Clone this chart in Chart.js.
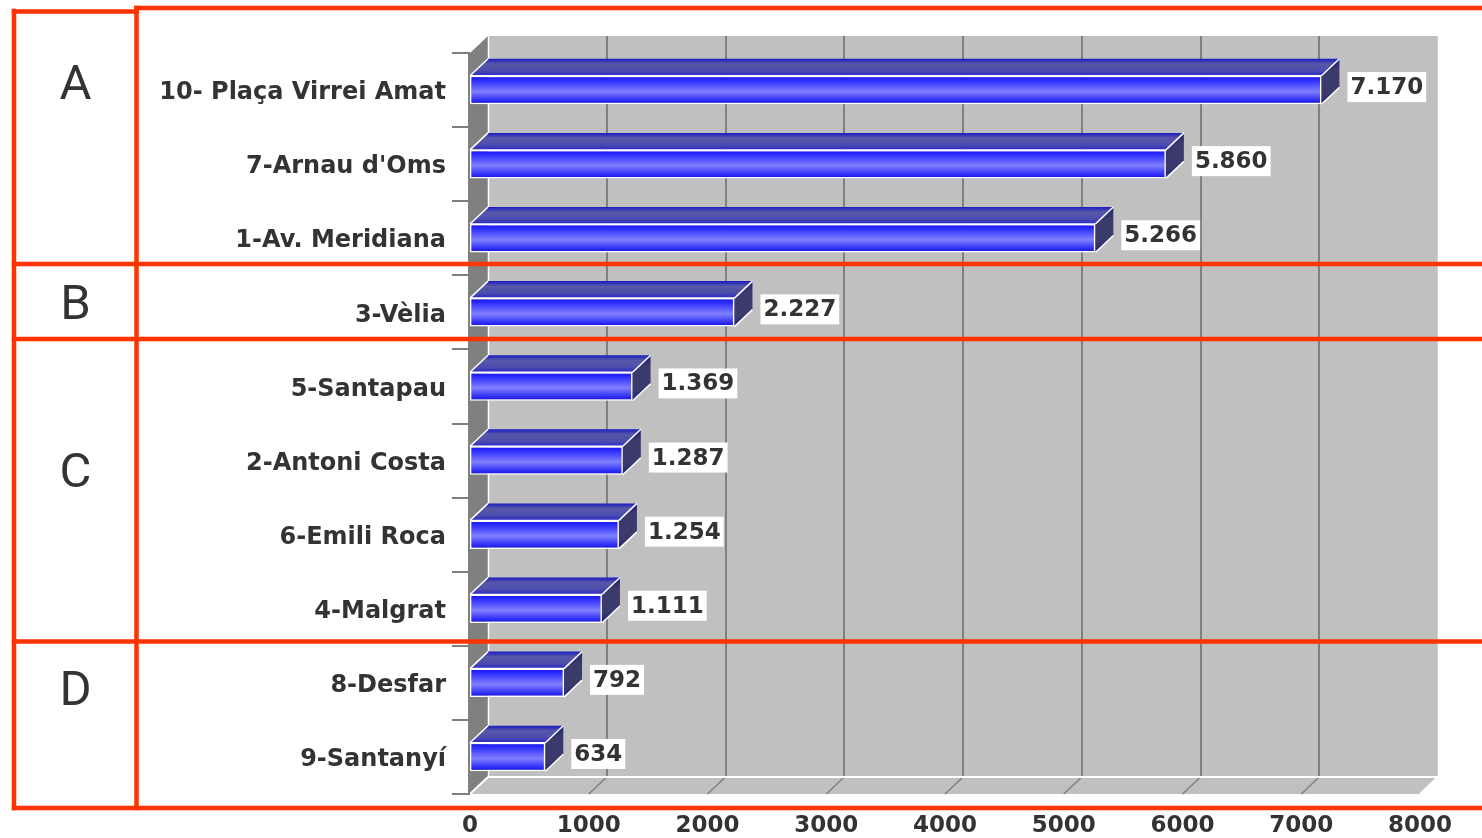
<!DOCTYPE html>
<html><head><meta charset="utf-8">
<script src="https://cdn.jsdelivr.net/npm/chart.js@4/dist/chart.umd.min.js"></script>
<style>
html,body{margin:0;padding:0;background:#fff;}
#wrap{position:relative;width:1482px;height:838px;overflow:hidden;background:#fff;}
canvas{position:absolute;left:0;top:0;}
.grp{position:absolute;left:14px;width:123px;text-align:center;font-family:Roboto,"Open Sans",sans-serif;font-weight:400;font-size:49px;color:#333;line-height:1;transform:translateY(-50%);}
</style></head>
<body><div id="wrap"><canvas id="c" width="1482" height="838"></canvas></div>
<script>
// ---- data ----
const categories = ['10- Plaça Virrei Amat', "7-Arnau d'Oms", '1-Av. Meridiana', '3-Vèlia', '5-Santapau', '2-Antoni Costa', '6-Emili Roca', '4-Malgrat', '8-Desfar', '9-Santanyí'];
const values = [7170, 5860, 5266, 2227, 1369, 1287, 1254, 1111, 792, 634];
const xTicks = [0, 1000, 2000, 3000, 4000, 5000, 6000, 7000, 8000];
const groupLetters = ['A', 'B', 'C', 'D'];

// ---- layout / style ----
const groupCenters = [82, 302, 470, 688];
const DEPTH = {dx: 18, dy: 17};
const RED = '#FF3300';

const wrap = document.getElementById('wrap');
groupLetters.forEach((g, i) => {
  const d = document.createElement('div');
  d.className = 'grp'; d.textContent = g; d.style.top = groupCenters[i] + 'px';
  wrap.appendChild(d);
});

const fmt = v => String(v).replace(/\B(?=(\d{3})+(?!\d))/g, '.');
const BAR_PCT = 0.385;

const frontFill = (c) => {
  const ch = c.chart, ys = ch.scales && ch.scales.y;
  if (!ys || c.dataIndex === undefined) return '#3030f0';
  const cy = ys.getPixelForValue(c.dataIndex);
  const h = Math.abs(ys.getPixelForValue(1) - ys.getPixelForValue(0)) * BAR_PCT;
  if (!isFinite(cy) || !isFinite(h) || h <= 0) return '#3030f0';
  const g = ch.ctx.createLinearGradient(0, cy - h / 2, 0, cy + h / 2);
  g.addColorStop(0, '#1010e8');
  g.addColorStop(0.15, '#2a2aff');
  g.addColorStop(0.55, '#8080ff');
  g.addColorStop(0.85, '#3030f8');
  g.addColorStop(1, '#1010d8');
  return g;
};

function poly(ctx, pts) {
  ctx.beginPath();
  ctx.moveTo(pts[0][0], pts[0][1]);
  for (let i = 1; i < pts.length; i++) ctx.lineTo(pts[i][0], pts[i][1]);
  ctx.closePath();
}
function line(ctx, x1, y1, x2, y2) {
  ctx.beginPath(); ctx.moveTo(x1, y1); ctx.lineTo(x2, y2); ctx.stroke();
}

const threeD = {
  id: 'threeD',
  beforeDatasetsDraw(chart) {
    const {ctx, chartArea: a, scales: {x, y}} = chart;
    const L = a.left, R = a.right, T = a.top, B = a.bottom, dx = DEPTH.dx, dy = DEPTH.dy;
    ctx.save();
    // back wall
    ctx.fillStyle = '#C0C0C0';
    ctx.fillRect(L + dx, T - dy, R - L, B - T);
    // back grid
    ctx.strokeStyle = '#808080'; ctx.lineWidth = 2;
    x.ticks.forEach(t => {
      if (t.value <= x.min || t.value >= x.max) return;
      const px = Math.round(x.getPixelForValue(t.value) + dx);
      line(ctx, px, T - dy, px, B - dy);
    });
    // side wall
    ctx.fillStyle = '#808080';
    poly(ctx, [[L, T], [L + dx, T - dy], [L + dx, B - dy], [L, B]]);
    ctx.fill();
    ctx.strokeStyle = '#FFFFFF'; ctx.lineWidth = 1.5;
    line(ctx, L + dx + 0.5, T - dy, L + dx + 0.5, B - dy);
    line(ctx, R + dx + 0.5, T - dy, R + dx + 0.5, B - dy);
    // floor
    ctx.fillStyle = '#C0C0C0';
    poly(ctx, [[L, B], [R, B], [R + dx, B - dy], [L + dx, B - dy]]);
    ctx.fill();
    ctx.strokeStyle = '#808080'; ctx.lineWidth = 1.5;
    x.ticks.forEach(t => {
      if (t.value <= x.min || t.value >= x.max) return;
      const px = x.getPixelForValue(t.value);
      line(ctx, px, B, px + dx, B - dy);
    });
    ctx.strokeStyle = '#FFFFFF'; ctx.lineWidth = 2;
    line(ctx, L + dx, B - dy, R + dx, B - dy);
    line(ctx, L, B, L + dx, B - dy);
    line(ctx, R, B, R + dx, B - dy);
    // category axis
    ctx.strokeStyle = '#808080'; ctx.lineWidth = 2;
    line(ctx, L - 1, T, L - 1, B + 1);
    const n = categories.length, band = (B - T) / n;
    for (let i = 0; i <= n; i++) {
      const yy = Math.round(T + i * band);
      line(ctx, L - 18, yy, L, yy);
    }
    ctx.restore();
  },
  afterDatasetsDraw(chart) {
    const {ctx} = chart;
    const dx = DEPTH.dx, dy = DEPTH.dy;
    const meta = chart.getDatasetMeta(0);
    ctx.save();
    meta.data.forEach((el, i) => {
      const p = el.getProps(['x', 'y', 'base', 'height'], true);
      const top = p.y - p.height / 2, bot = p.y + p.height / 2;
      const xe = p.x, xb = p.base;
      // top face
      let g = ctx.createLinearGradient(0, top - dy, 0, top);
      g.addColorStop(0, '#1a1ac0');
      g.addColorStop(0.3, '#5858a8');
      g.addColorStop(0.7, '#4c4cae');
      g.addColorStop(1, '#2828c8');
      ctx.fillStyle = g;
      poly(ctx, [[xb, top], [xe, top], [xe + dx, top - dy], [xb + dx, top - dy]]);
      ctx.fill();
      // side face
      g = ctx.createLinearGradient(xe, top - dy, xe + dx, bot);
      g.addColorStop(0, '#08087e');
      g.addColorStop(0.3, '#3a3a6c');
      g.addColorStop(0.7, '#3a3a6c');
      g.addColorStop(1, '#08087e');
      ctx.fillStyle = g;
      poly(ctx, [[xe, top], [xe + dx, top - dy], [xe + dx, bot - dy], [xe, bot]]);
      ctx.fill();
      // white edges
      ctx.strokeStyle = '#FFFFFF'; ctx.lineWidth = 1.5;
      line(ctx, xb, top, xb + dx, top - dy);
      line(ctx, xe, top, xe + dx, top - dy);
      line(ctx, xe, bot, xe + dx, bot - dy);
      line(ctx, xb, top, xe, top);
      // value label
      const txt = fmt(values[i]);
      ctx.font = 'bold 23px "DejaVu Sans"';
      const w = ctx.measureText(txt).width + 6;
      const bx = xe + dx + 8, cy = p.y - 3;
      ctx.fillStyle = '#FFFFFF';
      ctx.fillRect(bx, cy - 15, w, 30);
      ctx.fillStyle = '#333333';
      ctx.textBaseline = 'middle'; ctx.textAlign = 'left';
      ctx.fillText(txt, bx + 3, cy + 1);
    });
    ctx.restore();
  },
  afterDraw(chart) {
    const {ctx} = chart;
    ctx.save();
    ctx.strokeStyle = RED; ctx.lineWidth = 4.5; ctx.lineCap = 'square';
    line(ctx, 14, 11, 14, 808);
    line(ctx, 136.5, 8, 136.5, 808);
    line(ctx, 14, 11.5, 136.5, 11.5);
    line(ctx, 136.5, 8, 1490, 8);
    line(ctx, 14, 264, 1490, 264);
    line(ctx, 14, 339, 1490, 339);
    line(ctx, 14, 641.5, 1490, 641.5);
    line(ctx, 14, 808, 1490, 808);
    ctx.restore();
  }
};

Chart.defaults.font.family = '"DejaVu Sans", sans-serif';
Chart.defaults.color = '#333333';

new Chart(document.getElementById('c'), {
  type: 'bar',
  data: {
    labels: categories,
    datasets: [{
      data: values,
      backgroundColor: frontFill,
      borderColor: '#FFFFFF',
      borderWidth: 1.5,
      borderSkipped: false,
      barPercentage: BAR_PCT,
      categoryPercentage: 1
    }]
  },
  options: {
    indexAxis: 'y',
    responsive: false,
    animation: false,
    devicePixelRatio: 1,
    layout: {padding: {top: 53, right: 62, left: 0, bottom: 0}},
    plugins: {legend: {display: false}, tooltip: {enabled: false}},
    scales: {
      x: {
        min: 0, max: 8000,
        afterBuildTicks: s => { s.ticks = xTicks.map(v => ({value: v})); },
        afterFit: s => { s.height = 44; },
        grid: {display: false, drawTicks: false},
        border: {display: false},
        ticks: {callback: v => String(v), font: {size: 23, weight: 'bold'}, color: '#333333', padding: 18, maxRotation: 0, autoSkip: false}
      },
      y: {
        afterFit: s => { s.width = 470; },
        grid: {display: false, drawTicks: false},
        border: {display: false},
        ticks: {font: {size: 24, weight: 'bold'}, color: '#333333', padding: 24, labelOffset: 3, autoSkip: false}
      }
    }
  },
  plugins: [threeD]
});
</script>
</body></html>
